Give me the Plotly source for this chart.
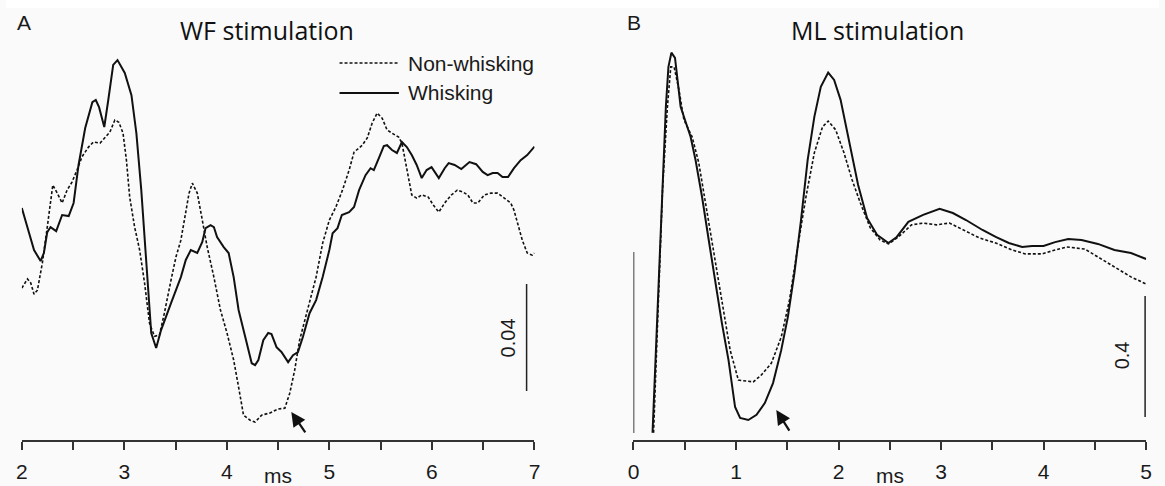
import plotly.graph_objects as go

W, H = 1165, 486

# ---------------- Panel A: WF stimulation (time in ms, amplitude) ----------------
wf_t_whisk = [2.00, 2.087, 2.119, 2.183, 2.215, 2.248, 2.280, 2.335, 2.393, 2.457,
              2.505, 2.553, 2.618, 2.688, 2.721, 2.753, 2.779, 2.804, 2.843, 2.891,
              2.933, 3.004, 3.069, 3.117, 3.165, 3.213, 3.262, 3.310, 3.358, 3.455,
              3.551, 3.599, 3.648, 3.711, 3.760, 3.792, 3.841, 3.873, 3.904, 3.969,
              4.017, 4.066, 4.114, 4.179, 4.242, 4.275, 4.307, 4.355, 4.403, 4.435,
              4.484, 4.532, 4.597, 4.645, 4.693, 4.741, 4.806, 4.870, 4.934, 4.999,
              5.031, 5.079, 5.121, 5.192, 5.240, 5.289, 5.352, 5.401, 5.433, 5.482,
              5.530, 5.562, 5.610, 5.658, 5.707, 5.755, 5.803, 5.851, 5.900, 5.948,
              5.996, 6.067, 6.124, 6.163, 6.221, 6.286, 6.366, 6.431, 6.495, 6.543,
              6.592, 6.640, 6.688, 6.742, 6.800, 6.865, 6.929, 7.000]
wf_v_whisk = [0.0344, 0.0236, 0.0187, 0.0146, 0.0176, 0.0254, 0.0273, 0.0258, 0.0318, 0.0314,
              0.0363, 0.0505, 0.0643, 0.0740, 0.0748, 0.0721, 0.0680, 0.0647, 0.0748, 0.0879,
              0.0897, 0.0849, 0.0766, 0.0624, 0.0411, 0.0138, -0.0123, -0.0179, -0.0112, -0.0011,
              0.0086, 0.0150, 0.0187, 0.0176, 0.0217, 0.0269, 0.0280, 0.0273, 0.0236, 0.0198,
              0.0176, 0.0086, -0.0037, -0.0138, -0.0236, -0.0243, -0.0224, -0.0150, -0.0123, -0.0127,
              -0.0176, -0.0194, -0.0232, -0.0206, -0.0194, -0.0138, -0.0049, 0.0000, 0.0086, 0.0187,
              0.0250, 0.0269, 0.0318, 0.0329, 0.0348, 0.0411, 0.0467, 0.0493, 0.0486, 0.0531,
              0.0576, 0.0579, 0.0561, 0.0550, 0.0591, 0.0572, 0.0542, 0.0505, 0.0456, 0.0486,
              0.0497, 0.0456, 0.0493, 0.0512, 0.0505, 0.0490, 0.0516, 0.0508, 0.0479, 0.0467,
              0.0475, 0.0475, 0.0460, 0.0460, 0.0493, 0.0523, 0.0542, 0.0574]

wf_t_non = [2.00, 2.055, 2.087, 2.119, 2.152, 2.200, 2.248, 2.302, 2.345, 2.393,
            2.441, 2.489, 2.538, 2.586, 2.650, 2.698, 2.763, 2.811, 2.859, 2.907,
            2.946, 2.987, 3.020, 3.052, 3.100, 3.149, 3.197, 3.245, 3.293, 3.342,
            3.390, 3.455, 3.503, 3.551, 3.599, 3.631, 3.663, 3.711, 3.760, 3.808,
            3.873, 3.937, 4.001, 4.066, 4.114, 4.162, 4.227, 4.275, 4.339, 4.420,
            4.500, 4.565, 4.613, 4.661, 4.709, 4.790, 4.870, 4.934, 4.999, 5.063,
            5.127, 5.192, 5.240, 5.320, 5.369, 5.417, 5.465, 5.514, 5.562, 5.610,
            5.675, 5.707, 5.755, 5.803, 5.851, 5.900, 5.964, 6.013, 6.067, 6.124,
            6.189, 6.247, 6.302, 6.350, 6.399, 6.447, 6.511, 6.575, 6.640, 6.704,
            6.768, 6.800, 6.833, 6.881, 6.929, 6.978, 7.000]
wf_v_non = [0.0045, 0.0079, 0.0064, 0.0022, 0.0037, 0.0138, 0.0273, 0.0430, 0.0400, 0.0363,
            0.0411, 0.0441, 0.0486, 0.0535, 0.0572, 0.0591, 0.0587, 0.0606, 0.0628, 0.0673,
            0.0665, 0.0624, 0.0523, 0.0385, 0.0273, 0.0187, 0.0064, -0.0086, -0.0135, -0.0131,
            -0.0049, 0.0075, 0.0161, 0.0224, 0.0325, 0.0400, 0.0437, 0.0400, 0.0299, 0.0198,
            0.0086, -0.0037, -0.0123, -0.0224, -0.0325, -0.0430, -0.0449, -0.0456, -0.0430, -0.0422,
            -0.0407, -0.0404, -0.0348, -0.0262, -0.0150, -0.0026, 0.0086, 0.0213, 0.0299, 0.0348,
            0.0411, 0.0486, 0.0553, 0.0579, 0.0606, 0.0662, 0.0699, 0.0680, 0.0636, 0.0624,
            0.0609, 0.0587, 0.0486, 0.0393, 0.0381, 0.0393, 0.0385, 0.0355, 0.0329, 0.0363,
            0.0393, 0.0411, 0.0404, 0.0393, 0.0363, 0.0363, 0.0393, 0.0400, 0.0400, 0.0381,
            0.0363, 0.0336, 0.0288, 0.0224, 0.0176, 0.0168, 0.0176]

# ---------------- Panel B: ML stimulation ----------------
ml_t_whisk = [0.186, 0.235, 0.283, 0.316, 0.341, 0.370, 0.405, 0.428, 0.460, 0.509,
              0.557, 0.605, 0.669, 0.734, 0.798, 0.862, 0.927, 0.991, 1.040, 1.120,
              1.200, 1.281, 1.361, 1.441, 1.506, 1.570, 1.634, 1.699, 1.764, 1.827,
              1.899, 1.957, 2.020, 2.085, 2.150, 2.191, 2.278, 2.375, 2.487, 2.568,
              2.681, 2.825, 2.986, 3.115, 3.243, 3.404, 3.533, 3.661, 3.791, 3.887,
              3.999, 4.112, 4.240, 4.370, 4.530, 4.691, 4.852, 5.000]
ml_v_whisk = [-0.604, -0.188, 0.255, 0.473, 0.605, 0.652, 0.635, 0.572, 0.473, 0.423,
              0.374, 0.298, 0.175, 0.033, -0.109, -0.241, -0.364, -0.519, -0.555, -0.562,
              -0.545, -0.506, -0.440, -0.331, -0.221, -0.076, 0.099, 0.298, 0.440, 0.539,
              0.586, 0.562, 0.496, 0.387, 0.274, 0.215, 0.106, 0.050, 0.023, 0.043,
              0.093, 0.116, 0.136, 0.122, 0.099, 0.066, 0.043, 0.023, 0.010, 0.013,
              0.013, 0.026, 0.036, 0.033, 0.020, 0.000, -0.010, -0.030]

ml_t_non = [0.196, 0.235, 0.283, 0.331, 0.364, 0.396, 0.444, 0.492, 0.572, 0.637,
            0.702, 0.782, 0.862, 0.943, 1.023, 1.103, 1.168, 1.248, 1.345, 1.441,
            1.522, 1.602, 1.682, 1.764, 1.844, 1.899, 1.972, 2.053, 2.133, 2.213,
            2.310, 2.406, 2.487, 2.584, 2.712, 2.825, 2.954, 3.082, 3.211, 3.372,
            3.533, 3.694, 3.822, 3.984, 4.112, 4.225, 4.402, 4.530, 4.691, 4.852, 4.997]
ml_v_non = [-0.604, -0.241, 0.198, 0.473, 0.605, 0.605, 0.529, 0.430, 0.374, 0.288,
            0.155, -0.010, -0.165, -0.331, -0.430, -0.433, -0.436, -0.413, -0.374, -0.288,
            -0.165, 0.010, 0.175, 0.321, 0.407, 0.426, 0.397, 0.321, 0.231, 0.155,
            0.073, 0.033, 0.020, 0.043, 0.083, 0.089, 0.083, 0.089, 0.066, 0.040,
            0.023, 0.000, -0.013, -0.013, 0.000, 0.010, 0.003, -0.023, -0.056, -0.089, -0.112]

# stimulus artefact at t = 0 in panel B
ml_stim_t = [0.0, 0.0]
ml_stim_v = [-0.605, -0.007]

# axis ticks
wf_tickvals = [2, 2.5, 3, 3.5, 4, 4.5, 5, 5.5, 6, 6.5, 7]
wf_ticktext = ["2", "", "3", "", "4", "", "5", "", "6", "", "7"]
ml_tickvals = [0, 0.5, 1, 1.5, 2, 2.5, 3, 3.5, 4, 4.5, 5]
ml_ticktext = ["0", "", "1", "", "2", "", "3", "", "4", "", "5"]

# scale bars
SCALE_A = 0.04
SCALE_B = 0.4


def py(p):
    return (H - p) / H


line_solid = dict(color="#111111", width=2)
line_dash = dict(color="#111111", width=1.6, dash="3px,2px")

fig = go.Figure()
fig.add_trace(go.Scatter(x=wf_t_non, y=wf_v_non, mode="lines", line=line_dash,
                         name="Non-whisking", xaxis="x", yaxis="y", showlegend=False))
fig.add_trace(go.Scatter(x=wf_t_whisk, y=wf_v_whisk, mode="lines", line=line_solid,
                         name="Whisking", xaxis="x", yaxis="y", showlegend=False))
fig.add_trace(go.Scatter(x=ml_t_non, y=ml_v_non, mode="lines", line=line_dash,
                         name="Non-whisking", xaxis="x2", yaxis="y2", showlegend=False))
fig.add_trace(go.Scatter(x=ml_t_whisk, y=ml_v_whisk, mode="lines", line=line_solid,
                         name="Whisking", xaxis="x2", yaxis="y2", showlegend=False))
fig.add_trace(go.Scatter(x=ml_stim_t, y=ml_stim_v, mode="lines",
                         line=dict(color="#111111", width=1.6),
                         name="stimulus", xaxis="x2", yaxis="y2", showlegend=False))

tickfont = dict(family="Arial, Liberation Sans, sans-serif", size=21, color="#1a1a1a")
axis_common = dict(showline=True, linecolor="#333333", linewidth=1.5, ticks="outside",
                   ticklen=8, tickwidth=1.5, tickcolor="#333333", showgrid=False,
                   zeroline=False, tickfont=tickfont, fixedrange=True, tickmode="array",
                   ticklabelstandoff=4)

ydom = [py(440), py(20)]
fig.update_layout(
    width=W, height=H, margin=dict(l=0, r=0, t=0, b=0),
    paper_bgcolor="#fafafa", plot_bgcolor="rgba(0,0,0,0)",
    xaxis=dict(domain=[16 / W, 534 / W], range=[2, 7], anchor="y",
               tickvals=wf_tickvals, ticktext=wf_ticktext, **axis_common),
    yaxis=dict(domain=ydom, range=[-0.0523, 0.1047], visible=False, anchor="x", fixedrange=True),
    xaxis2=dict(domain=[634 / W, 1152 / W], range=[0, 5], anchor="y2",
                tickvals=ml_tickvals, ticktext=ml_ticktext, **axis_common),
    yaxis2=dict(domain=ydom, range=[-0.628, 0.760], visible=False, anchor="x2", fixedrange=True),
    showlegend=False,
)

shapes = [
    # white top band
    dict(type="rect", xref="paper", yref="paper", x0=0, x1=1, y0=py(8), y1=1,
         fillcolor="white", line=dict(width=0), layer="below"),
    # scale bars
    dict(type="line", xref="x", yref="y", x0=6.923, x1=6.923, y0=-0.034, y1=-0.034 + SCALE_A,
         line=dict(color="#222", width=1.5)),
    dict(type="line", xref="x2", yref="y2", x0=4.99, x1=4.99, y0=-0.552, y1=-0.552 + SCALE_B,
         line=dict(color="#222", width=1.5)),
    # manual legend keys
    dict(type="line", xref="paper", yref="paper", x0=337 / W, x1=397 / W, y0=py(63), y1=py(63),
         line=dict(color="#111", width=1.6, dash="3px,2px")),
    dict(type="line", xref="paper", yref="paper", x0=337 / W, x1=397 / W, y0=py(93), y1=py(93),
         line=dict(color="#111", width=2)),
]
fig.update_layout(shapes=shapes)

lab = dict(family="Arial, Liberation Sans, sans-serif", color="#1a1a1a")
ann = [
    dict(text="A", xref="paper", yref="paper", x=18.5 / W, y=py(22), showarrow=False,
         font=dict(size=21, **lab), xanchor="center", yanchor="middle"),
    dict(text="B", xref="paper", yref="paper", x=634.5 / W, y=py(22), showarrow=False,
         font=dict(size=21, **lab), xanchor="center", yanchor="middle"),
    dict(text="WF stimulation", xref="paper", yref="paper", x=264 / W, y=py(30), showarrow=False,
         font=dict(family="Open Sans, sans-serif", size=25, color="#111"),
         xanchor="center", yanchor="middle"),
    dict(text="ML stimulation", xref="paper", yref="paper", x=881 / W, y=py(30), showarrow=False,
         font=dict(family="Open Sans, sans-serif", size=25, color="#111"),
         xanchor="center", yanchor="middle"),
    dict(text="Non-whisking", xref="paper", yref="paper", x=404 / W, y=py(64), showarrow=False,
         font=dict(size=21, **lab), xanchor="left", yanchor="middle"),
    dict(text="Whisking", xref="paper", yref="paper", x=404 / W, y=py(92), showarrow=False,
         font=dict(size=21, **lab), xanchor="left", yanchor="middle"),
    dict(text="ms", xref="x", yref="paper", x=4.5, y=py(475), showarrow=False,
         font=dict(size=21, **lab), xanchor="center", yanchor="middle"),
    dict(text="ms", xref="x2", yref="paper", x=2.5, y=py(475), showarrow=False,
         font=dict(size=21, **lab), xanchor="center", yanchor="middle"),
    dict(text="0.04", xref="x", yref="y", x=6.74, y=-0.014, showarrow=False, textangle=-90,
         font=dict(size=20, **lab), xanchor="center", yanchor="middle"),
    dict(text="0.4", xref="x2", yref="y2", x=4.768, y=-0.347, showarrow=False, textangle=-90,
         font=dict(size=20, **lab), xanchor="center", yanchor="middle"),
    # arrows
    dict(text="", xref="x", yref="y", x=4.628, y=-0.0418, ax=15, ay=22, showarrow=True,
         arrowhead=2, arrowsize=1.3, arrowwidth=2.2, arrowcolor="#111", standoff=0),
    dict(text="", xref="x2", yref="y2", x=1.393, y=-0.529, ax=14, ay=22, showarrow=True,
         arrowhead=2, arrowsize=1.3, arrowwidth=2.2, arrowcolor="#111", standoff=0),
]
fig.update_layout(annotations=ann)

fig.write_html("out.html")
